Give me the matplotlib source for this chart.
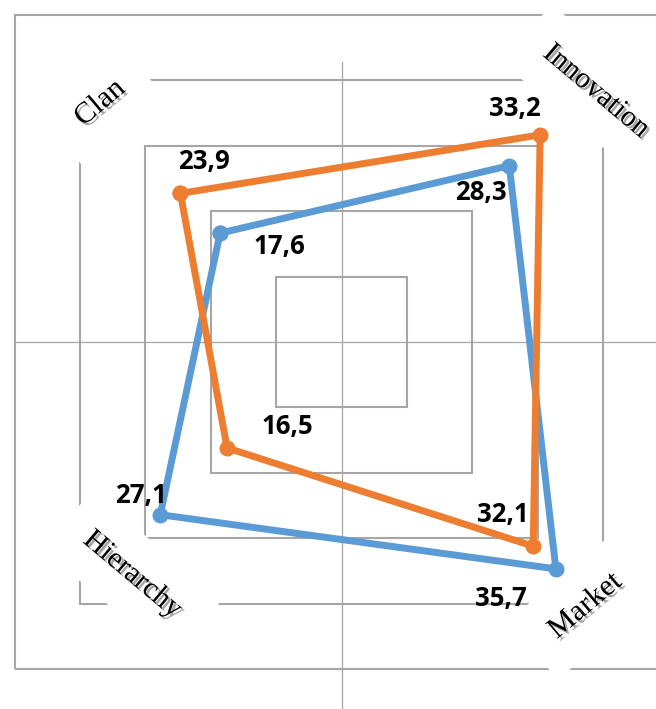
import matplotlib.pyplot as plt
import matplotlib.patheffects as pe
import numpy as np

cultures = ["Clan", "Innovation", "Market", "Hierarchy"]
# quadrant of each culture type (x sign, y sign)
quadrants = [(-1, 1), (1, 1), (1, -1), (-1, -1)]
current = [17.6, 28.3, 35.7, 27.1]
preferred = [23.9, 33.2, 32.1, 16.5]
rings = [10, 20, 30, 40, 50]

BLUE = "#5B9BD5"
ORANGE = "#ED7D31"
GRID = "#A6A6A6"

fig = plt.figure(figsize=(6.56, 7.09), dpi=100)

# background frame: nested squares and the two axes of the framework
bg = fig.add_axes([0, 0, 1, 1])
bg.set_xlim(-52.22, 48.09)
bg.set_ylim(-56.12, 52.29)
bg.axis("off")

for r in rings:
    bg.add_patch(plt.Rectangle((-r, -r), 2 * r, 2 * r, fill=False,
                               ec=GRID, lw=1.5, zorder=1))
bg.plot([-50, 50], [0, 0], color=GRID, lw=0.9, zorder=1)
bg.plot([0, 0], [42.8, -57], color=GRID, lw=0.9, zorder=1)

label_pos = {
    "Clan": ((-36.9, 36.5), 40),
    "Innovation": ((38.9, 38.3), -40),
    "Market": ((37.3, -40.4), 40),
    "Hierarchy": ((-32.0, -35.6), -40),
}
for name in cultures:
    (lx, ly), rot = label_pos[name]
    bg.text(lx, ly, name, rotation=rot,
            rotation_mode="anchor", ha="center", va="center",
            fontsize=21.5, family="Liberation Serif", zorder=3,
            bbox=dict(boxstyle="square,pad=0.85", fc="white", ec="none"),
            path_effects=[pe.withSimplePatchShadow(offset=(1.8, -1.8),
                                                   shadow_rgbFace="0.3",
                                                   alpha=0.5)])

# radar values drawn on their own diagonal scale
ax = fig.add_axes([0, 0, 1, 1])
ax.set_xlim(-52.54, 51.59)
ax.set_ylim(-57.94, 54.6)
ax.axis("off")
ax.patch.set_visible(False)

sx = np.array([q[0] for q in quadrants])
sy = np.array([q[1] for q in quadrants])

offsets_cur = [(42.5, -9.4), (-20.2, -19.4), (-39.6, -21.2), (-13.7, 14.0)]
offsets_pref = [(16.9, 23.0), (-18.4, 18.7), (-21.6, 23.0), (43.2, 15.1)]

for values, color, offsets in ((current, BLUE, offsets_cur),
                               (preferred, ORANGE, offsets_pref)):
    v = np.array(values)
    xs = np.append(sx * v, sx[0] * v[0])
    ys = np.append(sy * v, sy[0] * v[0])
    ax.plot(xs, ys, color=color, lw=5, marker="o", markersize=10.5,
            solid_joinstyle="round")
    for val, x, y, off in zip(values, sx * v, sy * v, offsets):
        ax.annotate(f"{val:.1f}".replace(".", ","), (x, y), xytext=off,
                    textcoords="offset points", ha="center", va="center",
                    fontsize=18.5, fontweight="bold", family="Open Sans")

fig.savefig("out.png", dpi=100)
